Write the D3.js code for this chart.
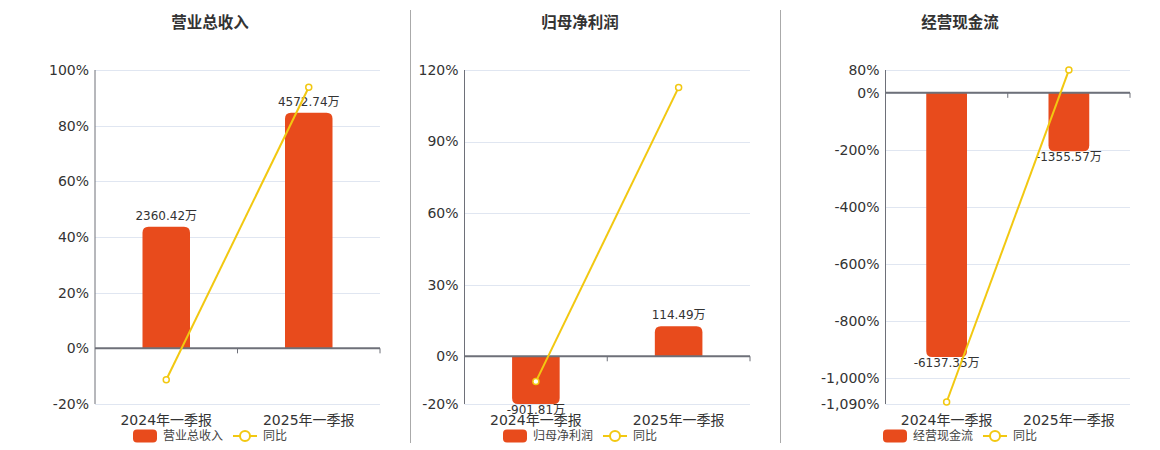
<!DOCTYPE html>
<html>
<head>
<meta charset="utf-8">
<script src="https://cdn.jsdelivr.net/npm/d3@7"></script>
<style>
  body { margin: 0; background: #fff; }
  text { font-family: "DejaVu Sans", "Noto Sans CJK SC", sans-serif; }
</style>
</head>
<body>
<div id="chart"></div>
<script>
// data
var categories = ["2024年一季报", "2025年一季报"];
var titles = ["营业总收入", "归母净利润", "经营现金流"];
var revenueValues = [2360.42, 4572.74];
var revenueYoy = [-11.3, 93.8];
var profitValues = [-901.81, 114.49];
var profitYoy = [-10.6, 112.7];
var cashflowValues = [-6137.35, -1355.57];
var cashflowYoy = [-1083, 79.6];
var revenueTicks = [100, 80, 60, 40, 20, 0, -20];
var profitTicks = [120, 90, 60, 30, 0, -20];
var cashflowTicks = [80, 0, -200, -400, -600, -800, -1000, -1090];

var width = 1160, height = 450;
var plotTop = 70, plotBottom = 404;
var barColor = "#e84b1c", lineColor = "#f2c811";

var svg = d3.select("#chart").append("svg")
    .attr("width", width)
    .attr("height", height);

// separators between panels
[410.5, 780.5].forEach(function (x) {
    svg.append("line")
        .attr("x1", x).attr("x2", x)
        .attr("y1", 10).attr("y2", 443)
        .attr("stroke", "#aaa").attr("stroke-width", 1);
});

var fmt = d3.formatLocale({ decimal: ".", thousands: ",", grouping: [3], currency: ["", ""], minus: "-" }).format(",");

var panels = [
    { title: titles[0], values: revenueValues, yoy: revenueYoy, ticks: revenueTicks, left: 95, right: 380, cx: 210, barMin: -1080 },
    { title: titles[1], values: profitValues, yoy: profitYoy, ticks: profitTicks, left: 464.5, right: 750, cx: 580, barMin: -902 },
    { title: titles[2], values: cashflowValues, yoy: cashflowYoy, ticks: cashflowTicks, left: 885.5, right: 1130, cx: 960, barMin: -7230 }
];

function barPath(x, w, y0, y1, r) {
    var up = y1 < y0;
    r = Math.min(r, Math.abs(y1 - y0) / 2);
    if (up) {
        return "M" + x + "," + y0 + "V" + (y1 + r) + "Q" + x + "," + y1 + " " + (x + r) + "," + y1 +
            "H" + (x + w - r) + "Q" + (x + w) + "," + y1 + " " + (x + w) + "," + (y1 + r) + "V" + y0 + "Z";
    }
    return "M" + x + "," + y0 + "V" + (y1 - r) + "Q" + x + "," + y1 + " " + (x + r) + "," + y1 +
        "H" + (x + w - r) + "Q" + (x + w) + "," + y1 + " " + (x + w) + "," + (y1 - r) + "V" + y0 + "Z";
}

panels.forEach(function (p) {
    var g = svg.append("g");
    var yMax = d3.max(p.ticks), yMin = d3.min(p.ticks);
    var y = d3.scaleLinear().domain([yMin, yMax]).range([plotBottom, plotTop]);
    // hidden bar axis, zero aligned with the percent axis
    var yBar = d3.scaleLinear().domain([p.barMin, p.barMin * yMax / yMin]).range([plotBottom, plotTop]);
    var x = d3.scaleBand().domain(categories).range([p.left, p.right]);
    var bw = x.bandwidth() / 3;
    var y0 = y(0);

    g.append("text")
        .attr("x", p.cx).attr("y", 28)
        .attr("text-anchor", "middle")
        .attr("font-size", 15.5).attr("font-weight", "bold")
        .attr("fill", "#333")
        .text(p.title);

    // grid
    g.selectAll(".grid").data(p.ticks).enter().append("line")
        .attr("x1", p.left).attr("x2", p.right)
        .attr("y1", function (d) { return Math.round(y(d)) + 0.5; })
        .attr("y2", function (d) { return Math.round(y(d)) + 0.5; })
        .attr("stroke", "#e0e6f1");

    g.selectAll(".tick").data(p.ticks).enter().append("text")
        .attr("x", p.left - 6)
        .attr("y", function (d) { return y(d); })
        .attr("dy", "0.35em")
        .attr("text-anchor", "end")
        .attr("font-size", 14)
        .attr("fill", "#333")
        .text(function (d) { return fmt(d) + "%"; });

    g.append("line")
        .attr("x1", p.left).attr("x2", p.left)
        .attr("y1", plotTop).attr("y2", plotBottom)
        .attr("stroke", "#6e7079");

    // bars
    p.values.forEach(function (v, i) {
        var bx = x(categories[i]) + (x.bandwidth() - bw) / 2;
        var len = Math.max(Math.abs(yBar(v) - y0), 30);
        var y1 = v >= 0 ? y0 - len : y0 + len;
        g.append("path")
            .attr("d", barPath(bx, bw, y0, y1, 6))
            .attr("fill", barColor);
        g.append("text")
            .attr("x", bx + bw / 2)
            .attr("y", v >= 0 ? y1 - 7 : y1 + 10)
            .attr("text-anchor", "middle")
            .attr("font-size", 12)
            .attr("fill", "#333")
            .text(v.toFixed(2) + "万");
    });

    // zero axis line + ticks
    g.append("line")
        .attr("x1", p.left).attr("x2", p.right)
        .attr("y1", y0).attr("y2", y0)
        .attr("stroke", "#6e7079").attr("stroke-width", 2);
    [1, 2].forEach(function (k) {
        var tx = p.left + x.step() * k;
        g.append("line")
            .attr("x1", tx).attr("x2", tx)
            .attr("y1", y0).attr("y2", y0 + 5)
            .attr("stroke", "#6e7079");
    });

    g.selectAll(".cat").data(categories).enter().append("text")
        .attr("x", function (d) { return x(d) + x.bandwidth() / 2; })
        .attr("y", 425)
        .attr("text-anchor", "middle")
        .attr("font-size", 14)
        .attr("fill", "#333")
        .text(function (d) { return d; });

    // yoy line
    var line = d3.line()
        .x(function (d, i) { return x(categories[i]) + x.bandwidth() / 2; })
        .y(function (d) { return y(d); });
    g.append("path")
        .datum(p.yoy)
        .attr("d", line)
        .attr("fill", "none")
        .attr("stroke", lineColor).attr("stroke-width", 2);
    g.selectAll(".pt").data(p.yoy).enter().append("circle")
        .attr("cx", function (d, i) { return x(categories[i]) + x.bandwidth() / 2; })
        .attr("cy", function (d) { return y(d); })
        .attr("r", 3)
        .attr("fill", "#fff")
        .attr("stroke", lineColor).attr("stroke-width", 1.5);

    // legend
    var ly = 436;
    g.append("rect")
        .attr("x", p.cx - 77).attr("y", ly - 6.5)
        .attr("width", 24).attr("height", 13).attr("rx", 4)
        .attr("fill", barColor);
    g.append("text")
        .attr("x", p.cx - 47).attr("y", ly).attr("dy", "0.35em")
        .attr("font-size", 12).attr("fill", "#444")
        .text(p.title);
    g.append("line")
        .attr("x1", p.cx + 23).attr("x2", p.cx + 47)
        .attr("y1", ly).attr("y2", ly)
        .attr("stroke", lineColor).attr("stroke-width", 2);
    g.append("circle")
        .attr("cx", p.cx + 35).attr("cy", ly).attr("r", 5)
        .attr("fill", "#fff")
        .attr("stroke", lineColor).attr("stroke-width", 2);
    g.append("text")
        .attr("x", p.cx + 53).attr("y", ly).attr("dy", "0.35em")
        .attr("font-size", 12).attr("fill", "#444")
        .text("同比");
});
</script>
</body>
</html>
